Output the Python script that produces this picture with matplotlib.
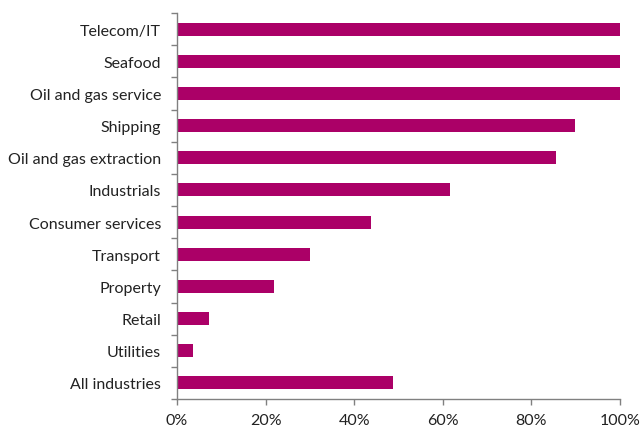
import matplotlib
matplotlib.use("Agg")
import matplotlib.pyplot as plt
from matplotlib.ticker import FuncFormatter, FixedLocator

categories = ["Telecom/IT", "Seafood", "Oil and gas service", "Shipping",
              "Oil and gas extraction", "Industrials", "Consumer services",
              "Transport", "Property", "Retail", "Utilities", "All industries"]
values = [100, 100, 100, 89.8, 85.5, 61.6, 43.8, 30.0, 21.9, 7.2, 3.7, 48.8]
xticks = [0, 20, 40, 60, 80, 100]

plt.rcParams["font.family"] = ["Lato", "DejaVu Sans"]

fig = plt.figure(figsize=(6.41, 4.27), dpi=100)
ax = fig.add_axes([177 / 641, 1 - 400 / 427, (620 - 177) / 641, (400 - 14) / 427])

n = len(categories)
ypos = list(range(n))
ax.barh(ypos, values, height=0.4, color="#AB0067")
ax.set_ylim(n - 0.5, -0.5)
ax.set_xlim(0, 100)

ax.set_yticks(ypos)
ax.set_yticklabels(categories, fontsize=11.5, color="#222222")
ax.tick_params(axis="y", which="major", length=0, pad=11.5)
ax.yaxis.set_minor_locator(FixedLocator([i - 0.5 for i in range(n + 1)]))
ax.tick_params(axis="y", which="minor", length=4, width=1, color="#808080")

ax.set_xticks(xticks)
ax.xaxis.set_major_formatter(FuncFormatter(lambda v, p: f"{v:.0f}%"))
ax.tick_params(axis="x", length=4, width=1, color="#808080", labelsize=11.5,
               labelcolor="#222222", pad=6)

for s in ["top", "right"]:
    ax.spines[s].set_visible(False)
for s in ["left", "bottom"]:
    ax.spines[s].set_color("#808080")
    ax.spines[s].set_linewidth(1)

fig.savefig("out.png", dpi=100)
